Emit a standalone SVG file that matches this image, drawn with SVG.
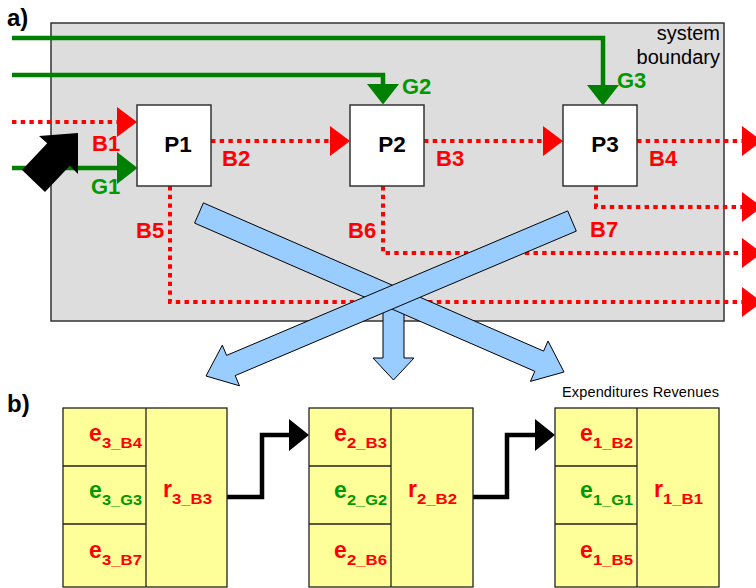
<svg xmlns="http://www.w3.org/2000/svg" width="756" height="588" viewBox="0 0 756 588">
<style>
text{font-family:"Liberation Sans",Arial,sans-serif}
.lab{font-weight:bold;font-size:22px}
.red{fill:#ff0000}
.grn{fill:#009900}
.pl{font-weight:bold;font-size:22.5px;fill:#000;text-anchor:middle}
.dot{fill:none;stroke:#ff0000;stroke-width:4;stroke-dasharray:4.4 4.3}
.gl{fill:none;stroke:#008000;stroke-width:4.5;stroke-linejoin:miter}
.box{fill:#fff;stroke:#333;stroke-width:1.5}
.tab{fill:#ffff99;stroke:#222;stroke-width:1.3}
.tl{stroke:#222;stroke-width:1.3}
.blue{fill:#99ccff;stroke:#000;stroke-width:1}
.con{fill:none;stroke:#000;stroke-width:4.5;stroke-linejoin:miter}
.acc{font-weight:bold;font-size:23px}
.sub{font-weight:bold;font-size:15px}
</style>
<defs>
<marker id="ar" markerUnits="userSpaceOnUse" markerWidth="22" markerHeight="32" refX="0" refY="15" orient="auto" overflow="visible"><path d="M0,0 L20,15 L0,30 z" fill="#ff0000"/></marker>
<marker id="ag" markerUnits="userSpaceOnUse" markerWidth="22" markerHeight="34" refX="0" refY="16" orient="auto" overflow="visible"><path d="M0,0 L20.5,16 L0,32 z" fill="#008000"/></marker>
<marker id="ak" markerUnits="userSpaceOnUse" markerWidth="22" markerHeight="34" refX="0" refY="16" orient="auto" overflow="visible"><path d="M0,0 L20,16 L0,32 z" fill="#000"/></marker>
</defs>

<g id="system-boundary">
<rect x="51" y="23" width="673" height="298" fill="#dddddd" stroke="#333" stroke-width="1.5"/>
<text x="720" y="40" font-size="20" text-anchor="end" fill="#000">system</text>
<text x="720" y="64" font-size="20" text-anchor="end" fill="#000">boundary</text>
</g>

<text x="7" y="26" font-weight="bold" font-size="24" fill="#000">a)</text>
<text x="7" y="412" font-weight="bold" font-size="24" fill="#000">b)</text>

<g id="connectors">
<path class="gl" d="M12,38 H603 V85" marker-end="url(#ag)"/>
<path class="gl" d="M12,75 H383 V84" marker-end="url(#ag)"/>
<path class="gl" d="M12,168 H117" marker-end="url(#ag)"/>
<path class="dot" d="M12,122 H117" marker-end="url(#ar)"/>
<path class="dot" d="M211,141 H330" marker-end="url(#ar)"/>
<path class="dot" d="M424,141 H543" marker-end="url(#ar)"/>
<path class="dot" d="M637,141 H742" marker-end="url(#ar)"/>
<path class="dot" d="M170,186 V302 H742" marker-end="url(#ar)"/>
<path class="dot" d="M383,186 V253 H742" marker-end="url(#ar)"/>
<path class="dot" d="M596,186 V207 H742" marker-end="url(#ar)"/>
<polygon fill="#000" points="78,133 78,174 69.8,165.8 45,192 22,170 47.2,143.2 39,136"/>
<polygon class="blue" points="383,300 383,358 373,358 393.5,380 414,358 404,358 404,300"/>
<polygon class="blue" points="194.6,223.1 534.8,371.3 530.4,381.4 564,372 548,341 543.6,351.1 203.4,202.9"/>
<polygon class="blue" points="567.7,210.9 226.6,355.4 222.3,345.2 206,376 239.5,385.8 235.2,375.6 576.3,231.1"/>
<path class="con" d="M227,497 H262 V435 H289" marker-end="url(#ak)"/>
<path class="con" d="M473,497 H507 V435 H535" marker-end="url(#ak)"/>
</g>

<g id="flow-labels" class="lab">
<text class="red" x="92" y="151">B1</text>
<text class="grn" x="91" y="194">G1</text>
<text class="grn" x="402" y="94">G2</text>
<text class="grn" x="617" y="88">G3</text>
<text class="red" x="222" y="166">B2</text>
<text class="red" x="436" y="166">B3</text>
<text class="red" x="649" y="166">B4</text>
<text class="red" x="136" y="238">B5</text>
<text class="red" x="348" y="238">B6</text>
<text class="red" x="590" y="237">B7</text>
</g>

<g id="P1"><rect class="box" x="137" y="105" width="74" height="81"/><text class="pl" x="178" y="152">P1</text></g>
<g id="P2"><rect class="box" x="350" y="105" width="74" height="81"/><text class="pl" x="392" y="152">P2</text></g>
<g id="P3"><rect class="box" x="563" y="105" width="74" height="81"/><text class="pl" x="605" y="152">P3</text></g>

<g id="account3">
<rect class="tab" x="63" y="408" width="164" height="179"/>
<line class="tl" x1="146" y1="408" x2="146" y2="587"/>
<line class="tl" x1="63" y1="466" x2="146" y2="466"/>
<line class="tl" x1="63" y1="524" x2="146" y2="524"/>
<text class="acc red" x="89" y="441">e</text><text class="sub red" x="102" y="448" textLength="40" lengthAdjust="spacingAndGlyphs">3_B4</text>
<text class="acc grn" x="89" y="498">e</text><text class="sub grn" x="102" y="505" textLength="40" lengthAdjust="spacingAndGlyphs">3_G3</text>
<text class="acc red" x="89" y="558">e</text><text class="sub red" x="102" y="565" textLength="40" lengthAdjust="spacingAndGlyphs">3_B7</text>
<text class="acc red" x="163" y="497">r</text><text class="sub red" x="172" y="504" textLength="40" lengthAdjust="spacingAndGlyphs">3_B3</text>
</g>

<g id="account2">
<rect class="tab" x="309" y="408" width="164" height="179"/>
<line class="tl" x1="391" y1="408" x2="391" y2="587"/>
<line class="tl" x1="309" y1="466" x2="391" y2="466"/>
<line class="tl" x1="309" y1="524" x2="391" y2="524"/>
<text class="acc red" x="334" y="441">e</text><text class="sub red" x="347" y="448" textLength="40" lengthAdjust="spacingAndGlyphs">2_B3</text>
<text class="acc grn" x="334" y="498">e</text><text class="sub grn" x="347" y="505" textLength="40" lengthAdjust="spacingAndGlyphs">2_G2</text>
<text class="acc red" x="334" y="558">e</text><text class="sub red" x="347" y="565" textLength="40" lengthAdjust="spacingAndGlyphs">2_B6</text>
<text class="acc red" x="408" y="497">r</text><text class="sub red" x="417" y="504" textLength="40" lengthAdjust="spacingAndGlyphs">2_B2</text>
</g>

<g id="account1">
<text x="562" y="397" font-size="14.5" textLength="157" fill="#000">Expenditures Revenues</text>
<rect class="tab" x="555" y="408" width="164" height="179"/>
<line class="tl" x1="637" y1="408" x2="637" y2="587"/>
<line class="tl" x1="555" y1="466" x2="637" y2="466"/>
<line class="tl" x1="555" y1="524" x2="637" y2="524"/>
<text class="acc red" x="580" y="441">e</text><text class="sub red" x="593" y="448" textLength="40" lengthAdjust="spacingAndGlyphs">1_B2</text>
<text class="acc grn" x="580" y="498">e</text><text class="sub grn" x="593" y="505" textLength="40" lengthAdjust="spacingAndGlyphs">1_G1</text>
<text class="acc red" x="580" y="558">e</text><text class="sub red" x="593" y="565" textLength="40" lengthAdjust="spacingAndGlyphs">1_B5</text>
<text class="acc red" x="654" y="497">r</text><text class="sub red" x="663" y="504" textLength="40" lengthAdjust="spacingAndGlyphs">1_B1</text>
</g>
</svg>
